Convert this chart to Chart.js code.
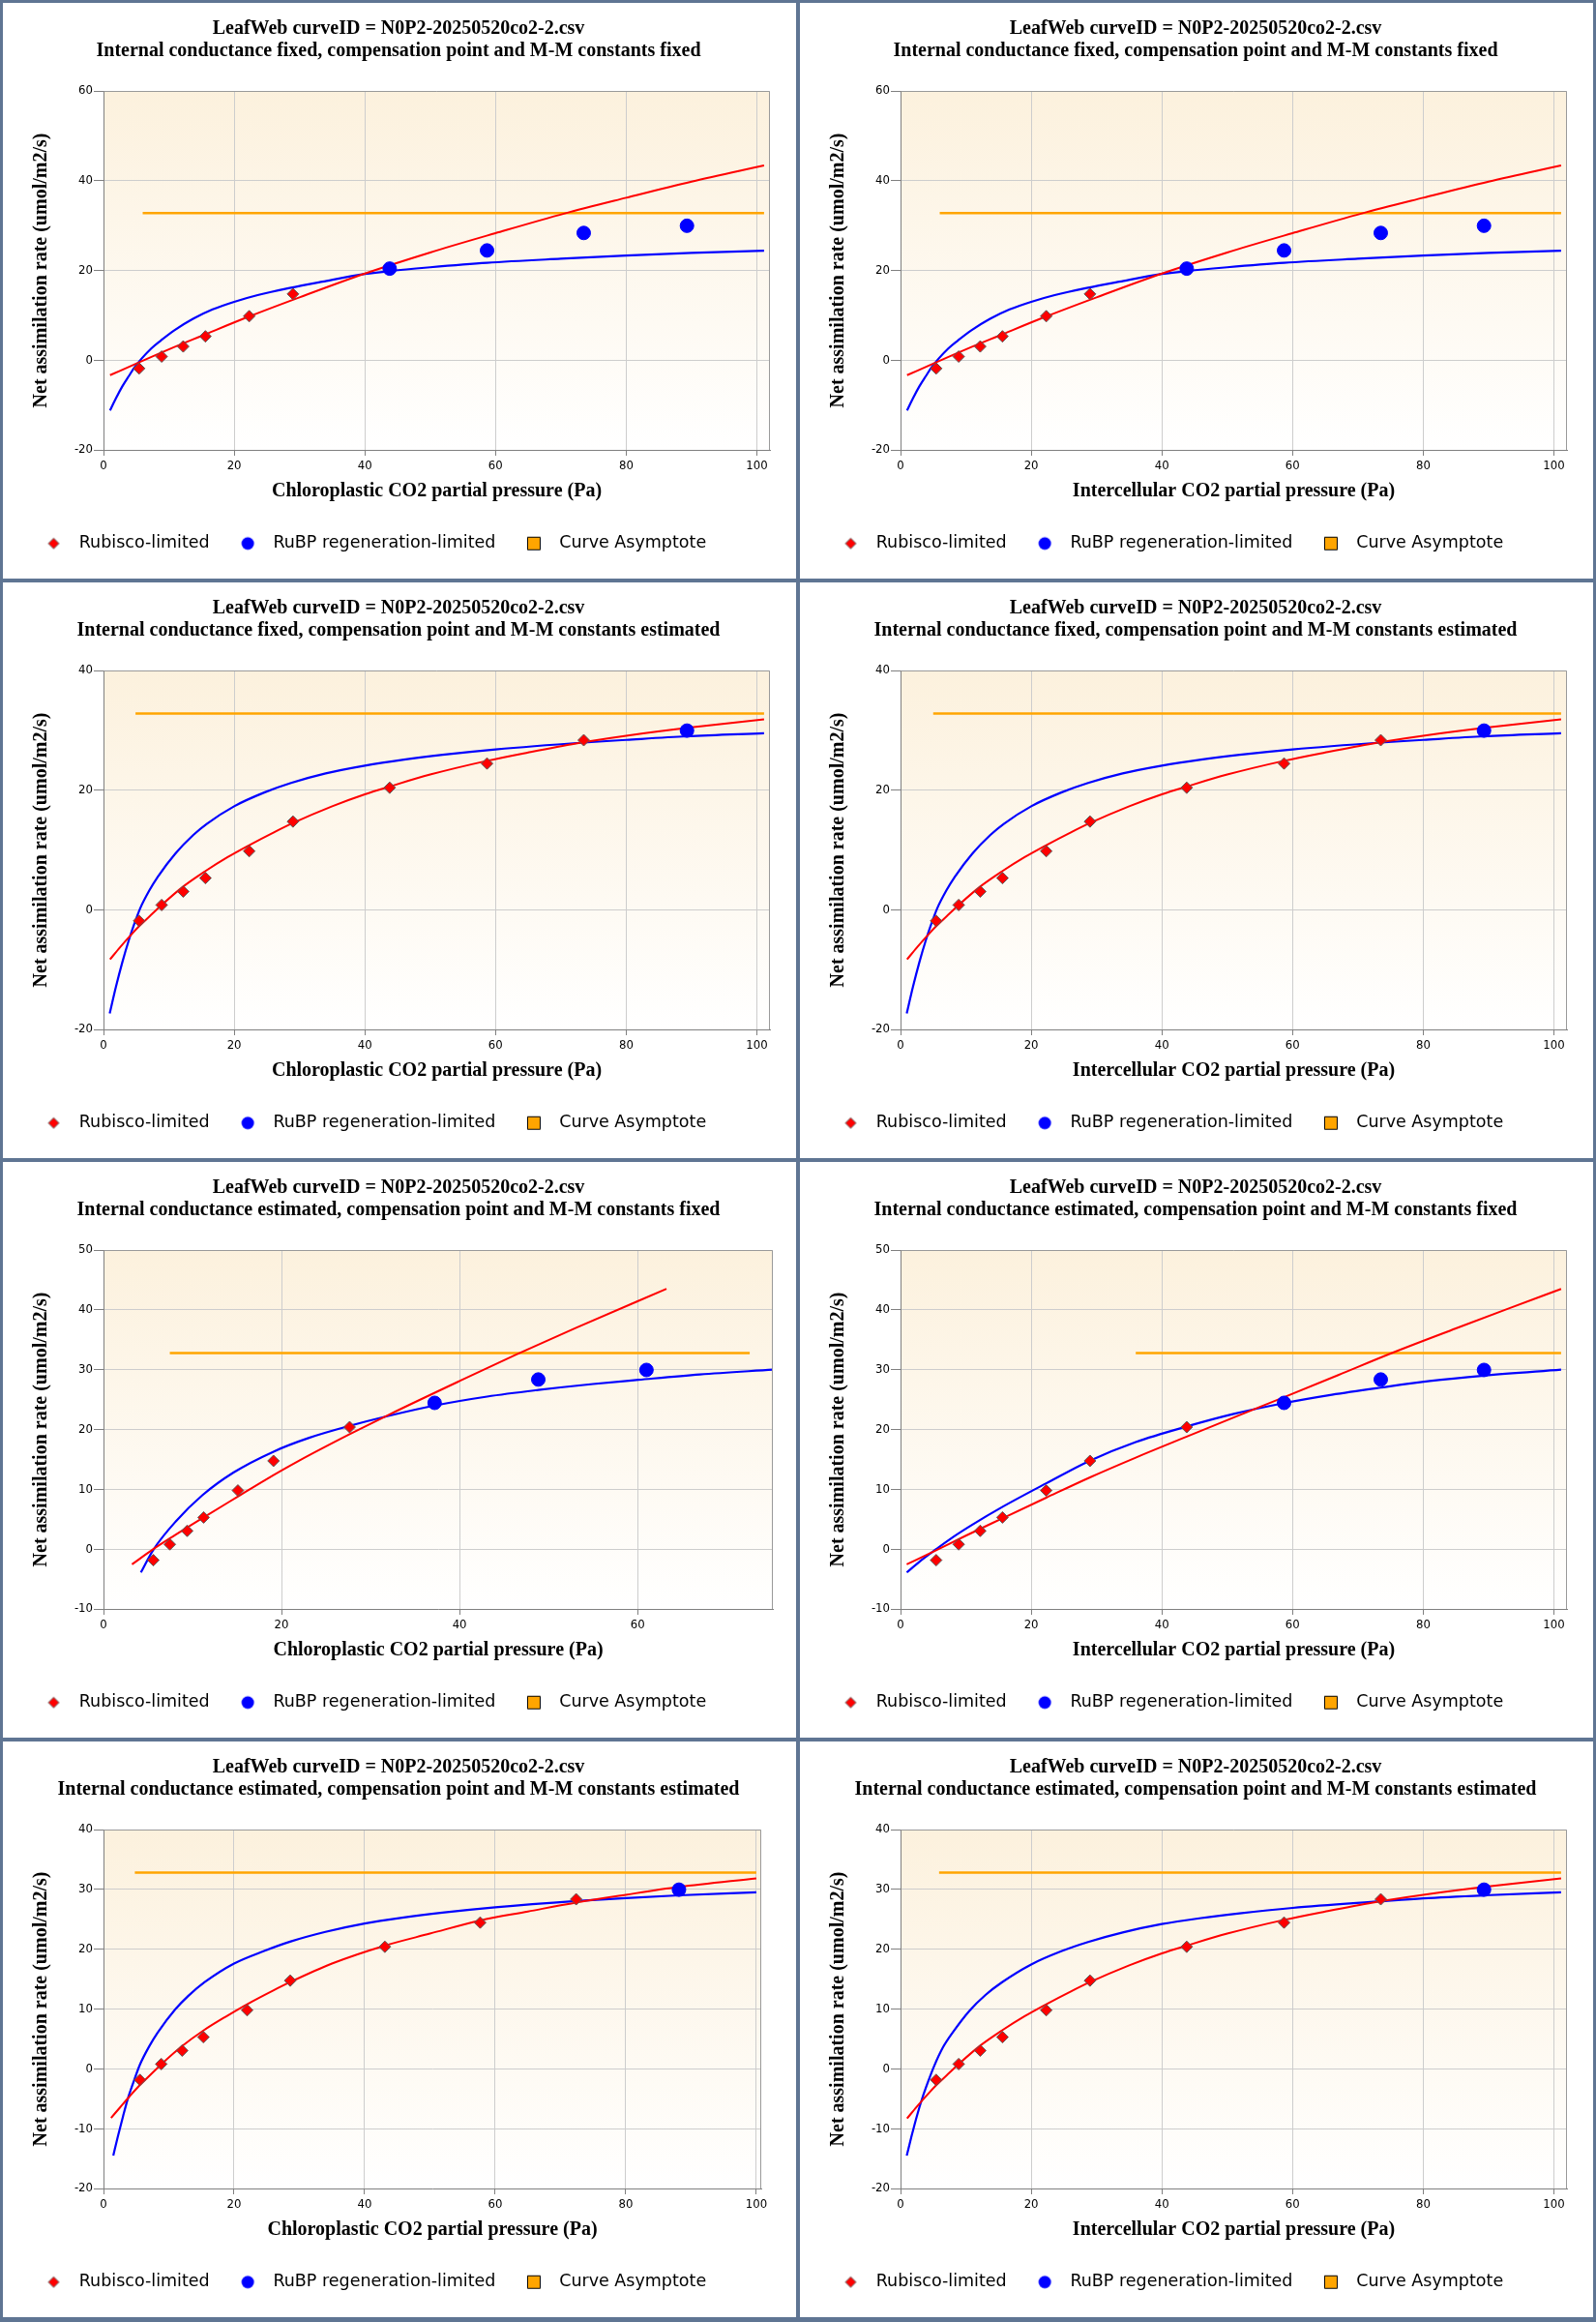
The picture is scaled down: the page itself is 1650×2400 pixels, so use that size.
<!DOCTYPE html>
<html>
<head>
<meta charset="utf-8">
<script src="https://cdn.jsdelivr.net/npm/chart.js@4.4.1/dist/chart.umd.min.js"></script>
<style>
html, body { margin: 0; padding: 0; background: #5f7593; }
#wrap { position: relative; width: 1650px; height: 2400px; background: #5f7593; overflow: hidden; }
.panel { position: absolute; width: 820px; height: 595px; background: #ffffff; }
.panel canvas { display: block; }
</style>
</head>
<body>
<div id="wrap"></div>
<script>
// ---------- texts ----------
const titleLine1 = 'LeafWeb curveID = N0P2-20250520co2-2.csv';
const fitTitles = [
  'Internal conductance fixed, compensation point and M-M constants fixed',
  'Internal conductance fixed, compensation point and M-M constants estimated',
  'Internal conductance estimated, compensation point and M-M constants fixed',
  'Internal conductance estimated, compensation point and M-M constants estimated'
];
const xTitles = ['Chloroplastic CO2 partial pressure (Pa)', 'Intercellular CO2 partial pressure (Pa)'];
const yTitle = 'Net assimilation rate (umol/m2/s)';
const legendLabels = ['Rubisco-limited', 'RuBP regeneration-limited', 'Curve Asymptote'];

// ---------- measured points ----------
const netA    = [-1.85, 0.8, 3.05, 5.3, 9.8, 14.75, 20.4, 24.45, 28.35, 29.95];
const ciPa    = [5.45, 8.9, 12.2, 15.6, 22.3, 29.0, 43.8, 58.7, 73.5, 89.3];
const ccRow3  = [5.6, 7.45, 9.4, 11.25, 15.1, 19.1, 27.65, 37.2, 48.85, 61.0];
const ccRow4  = [5.58, 8.85, 12.05, 15.3, 22.0, 28.6, 43.1, 57.7, 72.4, 88.15];
const rubiscoCount = [6, 9, 7, 9]; // per row: leading points that are Rubisco-limited

// ---------- per panel (r1L, r1R, r2L, r2R, r3L, r3R, r4L, r4R) ----------
const asymptoteA    = [32.8, 32.8, 32.8, 32.8, 32.76, 32.76, 32.8, 32.8];
const asymptoteFrom = [6.0, 6.0, 4.9, 5.0, 7.45, 36.0, 4.8, 5.9];
const asymptoteTo   = [101.1, 101.1, 101.1, 101.1, 72.6, 101.1, 100.0, 101.1];
const xMax  = [102, 102, 102, 102, 75.2, 102, 100.75, 102];
const yMin  = [-20, -20, -20, -20, -10, -10, -20, -20];
const yMax  = [60, 60, 40, 40, 50, 50, 40, 40];
const yStep = [20, 20, 20, 20, 10, 10, 10, 10];

// ---------- fitted curves ----------
const rubiscoFit1X = [1, 5.5, 10, 15, 22.4, 30, 40, 50, 60, 70.6, 80, 90, 101.1];
const rubiscoFit1Y = [-3.35, -0.45, 2.4, 5.4, 9.8, 14.0, 19.3, 24.0, 28.3, 32.7, 36.2, 39.8, 43.4];
const rubpFit1X = [1, 1.9, 2.9, 3.9, 4.8, 5.8, 7.3, 8.8, 10.8, 13.7, 16.7, 20, 23.6, 28.5, 33.5, 40, 44, 50, 58.7, 70, 80, 90, 101.1];
const rubpFit1Y = [-11.2, -8.5, -5.8, -3.5, -1.5, 0.3, 2.6, 4.4, 6.6, 9.2, 11.3, 13.0, 14.5, 16.1, 17.5, 19.2, 19.9, 20.7, 21.7, 22.6, 23.3, 23.9, 24.4];

const rubiscoFit2X = [1, 2.5, 4.2, 5.5, 7, 8.85, 12.1, 15.5, 19, 22.3, 26, 29, 35, 40, 43.8, 50, 58.7, 65, 72.3, 80, 90, 101.1];
const rubiscoFit2Y = [-8.3, -6.3, -4.2, -2.7, -1.15, 0.75, 3.8, 6.4, 8.8, 10.8, 12.9, 14.5, 17.3, 19.3, 20.6, 22.6, 24.9, 26.3, 27.8, 29.1, 30.5, 31.85];
const rubpFit2X = [0.95, 1.9, 2.9, 3.9, 4.7, 5.6, 7, 8.3, 11, 13.75, 15.8, 20, 24.6, 28.7, 34, 40, 46, 51.9, 60, 73.5, 80, 89.3, 101.1];
const rubpFit2Y = [-17.35, -12.9, -8.7, -5.0, -2.4, 0.2, 3.2, 5.5, 9.4, 12.5, 14.35, 17.3, 19.6, 21.2, 22.8, 24.1, 25.1, 25.9, 26.8, 27.95, 28.4, 29.0, 29.5];

const rubiscoFit3LX = [3.2, 5.6, 8, 11.25, 15, 18.1, 22, 27.65, 32.1, 40, 46.35, 53.1, 63.25];
const rubiscoFit3LY = [-2.55, 0.0, 2.3, 5.3, 8.7, 11.5, 14.8, 19.2, 22.5, 28.1, 32.5, 37.0, 43.5];
const rubpFit3LX = [4.2, 5.6, 8.1, 11.1, 14.6, 19.1, 23.1, 27.65, 32.1, 37.2, 43.1, 48.85, 55, 60.1, 67, 75.2];
const rubpFit3LY = [-3.9, -0.1, 4.6, 9.0, 12.8, 16.3, 18.6, 20.6, 22.3, 24.0, 25.5, 26.6, 27.6, 28.3, 29.2, 30.0];

const rubiscoFit3RX = [0.95, 5.45, 10, 15.5, 22.3, 29, 36, 43.8, 51.9, 58.7, 67, 75, 85, 93, 101.1];
const rubiscoFit3RY = [-2.55, -0.2, 2.25, 5.1, 8.6, 12.0, 15.3, 18.8, 22.4, 25.4, 29.1, 32.7, 36.9, 40.2, 43.5];
const rubpFit3RX = [0.95, 3, 5.45, 8, 11, 15.5, 22.3, 29, 36, 43.8, 51, 58.7, 66, 73.5, 81, 89.3, 101.1];
const rubpFit3RY = [-3.9, -2.0, 0.0, 2.0, 4.1, 7.0, 11.0, 14.8, 17.9, 20.5, 22.6, 24.4, 25.8, 27.0, 28.1, 29.0, 30.0];

const rubiscoFit4LX = [1.16, 2.5, 4.0, 5.58, 7, 8.85, 12.05, 15.3, 19, 22, 26, 28.6, 35, 43.1, 50, 57.7, 65, 72.4, 80, 88.15, 100];
const rubiscoFit4LY = [-8.2, -6.5, -4.6, -2.7, -1.2, 0.75, 3.8, 6.4, 8.9, 10.8, 13.1, 14.5, 17.6, 20.6, 22.6, 24.8, 26.3, 27.8, 29.1, 30.4, 31.85];
const rubpFit4LX = [1.5, 2.2, 3.0, 3.7, 4.6, 5.58, 7, 8.3, 11, 13, 15.45, 20, 24.6, 28.7, 34, 40, 46, 51.9, 60, 72.4, 80, 88.15, 100];
const rubpFit4LY = [-14.5, -11.3, -7.9, -5.1, -2.2, 0.7, 3.75, 6.05, 9.95, 12.2, 14.45, 17.6, 19.7, 21.3, 22.9, 24.3, 25.3, 26.1, 27.0, 28.05, 28.55, 29.0, 29.5];

const rubpFit4RX = [0.95, 1.7, 2.5, 3.3, 4.2, 5.2, 6.5, 8, 10.5, 13, 15.5, 20, 24.6, 28.7, 34, 40, 46, 51.9, 60, 73.5, 80, 89.3, 101.1];
const rubpFit4RY = [-14.5, -11.2, -7.9, -5.0, -2.2, 0.6, 3.6, 6.1, 9.65, 12.35, 14.45, 17.45, 19.65, 21.2, 22.8, 24.2, 25.2, 26.0, 26.9, 28.0, 28.5, 29.0, 29.5];

// ---------- layout (not data): extra right inset of each plot area, px ----------
const plotRightInset = [12, 12, 12, 12, 9, 12, 21, 12];

// ---------- panel assembly ----------
const panels = [
  {row: 0, col: 0, px: ciPa,   rx: rubiscoFit1X,  ry: rubiscoFit1Y,  bx: rubpFit1X,  by: rubpFit1Y},
  {row: 0, col: 1, px: ciPa,   rx: rubiscoFit1X,  ry: rubiscoFit1Y,  bx: rubpFit1X,  by: rubpFit1Y},
  {row: 1, col: 0, px: ciPa,   rx: rubiscoFit2X,  ry: rubiscoFit2Y,  bx: rubpFit2X,  by: rubpFit2Y},
  {row: 1, col: 1, px: ciPa,   rx: rubiscoFit2X,  ry: rubiscoFit2Y,  bx: rubpFit2X,  by: rubpFit2Y},
  {row: 2, col: 0, px: ccRow3, rx: rubiscoFit3LX, ry: rubiscoFit3LY, bx: rubpFit3LX, by: rubpFit3LY},
  {row: 2, col: 1, px: ciPa,   rx: rubiscoFit3RX, ry: rubiscoFit3RY, bx: rubpFit3RX, by: rubpFit3RY},
  {row: 3, col: 0, px: ccRow4, rx: rubiscoFit4LX, ry: rubiscoFit4LY, bx: rubpFit4LX, by: rubpFit4LY},
  {row: 3, col: 1, px: ciPa,   rx: rubiscoFit2X,  ry: rubiscoFit2Y,  bx: rubpFit4RX, by: rubpFit4RY}
];

const SERIF = "'Liberation Serif', 'Times New Roman', serif";
const TICKFONT = "'DejaVu Sans Condensed', 'Liberation Sans Narrow', 'DejaVu Sans', sans-serif";
const LEGENDFONT = "'DejaVu Sans', Verdana, sans-serif";

function pts(xs, ys) { return xs.map((x, i) => ({x: x, y: ys[i]})); }

function makeIcon(kind) {
  const c = document.createElement('canvas');
  c.width = 36; c.height = 18;
  const g = c.getContext('2d');
  const cx = 9, cy = 9;
  g.beginPath();
  if (kind === 0) {
    g.moveTo(cx - 5.5, cy); g.lineTo(cx, cy - 5.5); g.lineTo(cx + 5.5, cy); g.lineTo(cx, cy + 5.5); g.closePath();
    g.fillStyle = '#ff0000'; g.fill();
    g.strokeStyle = '#666666'; g.lineWidth = 1; g.stroke();
  } else if (kind === 1) {
    g.arc(cx, cy, 6.5, 0, Math.PI * 2);
    g.fillStyle = '#0000ff'; g.fill();
  } else {
    g.rect(cx - 6.5, cy - 6.5, 13, 13);
    g.fillStyle = '#ffa500'; g.fill();
    g.strokeStyle = '#000000'; g.lineWidth = 1; g.stroke();
  }
  return c;
}
const legendIcons = [makeIcon(0), makeIcon(1), makeIcon(2)];

const plotBackground = {
  id: 'plotBackground',
  beforeDraw(chart) {
    const a = chart.chartArea, ctx = chart.ctx;
    const grd = ctx.createLinearGradient(0, a.top, 0, a.bottom);
    grd.addColorStop(0, '#fcf1dd');
    grd.addColorStop(1, '#ffffff');
    ctx.save();
    ctx.fillStyle = grd;
    ctx.fillRect(a.left, a.top, a.right - a.left, a.bottom - a.top);
    ctx.restore();
  }
};
const plotFrame = {
  id: 'plotFrame',
  afterDraw(chart) {
    const a = chart.chartArea, ctx = chart.ctx;
    ctx.save();
    ctx.strokeStyle = '#9a9a9a';
    ctx.lineWidth = 1;
    ctx.beginPath();
    ctx.moveTo(Math.round(a.left) + 0.5, Math.round(a.top) + 0.5);
    ctx.lineTo(Math.round(a.right) - 0.5, Math.round(a.top) + 0.5);
    ctx.lineTo(Math.round(a.right) - 0.5, Math.round(a.bottom));
    ctx.stroke();
    ctx.restore();
  }
};

const wrap = document.getElementById('wrap');
panels.forEach((p, i) => {
  const div = document.createElement('div');
  div.className = 'panel';
  div.style.left = (3 + p.col * 824) + 'px';
  div.style.top = (3 + p.row * 599) + 'px';
  const cv = document.createElement('canvas');
  cv.width = 820; cv.height = 595;
  cv.style.width = '820px'; cv.style.height = '595px';
  div.appendChild(cv);
  wrap.appendChild(div);

  const n = rubiscoCount[p.row];
  const inset = plotRightInset[i];
  new Chart(cv, {
    type: 'scatter',
    data: {
      datasets: [
        {type: 'line', label: 'Rubisco fit', data: pts(p.rx, p.ry), borderColor: '#ff0000', borderWidth: 2,
         pointRadius: 0, fill: false, cubicInterpolationMode: 'monotone', order: 2},
        {type: 'line', label: 'RuBP fit', data: pts(p.bx, p.by), borderColor: '#0000ff', borderWidth: 2.2,
         pointRadius: 0, fill: false, cubicInterpolationMode: 'monotone', order: 3},
        {type: 'line', label: 'Curve Asymptote',
         data: [{x: asymptoteFrom[i], y: asymptoteA[i]}, {x: asymptoteTo[i], y: asymptoteA[i]}],
         borderColor: '#ffa500', borderWidth: 2.5, pointRadius: 0, fill: false, order: 4},
        {label: 'Rubisco-limited', data: pts(p.px.slice(0, n), netA.slice(0, n)), pointStyle: 'rectRot',
         pointRadius: 6, backgroundColor: '#ff0000', borderColor: '#5a5a5a', borderWidth: 1, order: 1},
        {label: 'RuBP regeneration-limited', data: pts(p.px.slice(n), netA.slice(n)), pointStyle: 'circle',
         pointRadius: 7, backgroundColor: '#0000ff', borderColor: '#0000ff', borderWidth: 1, order: 0}
      ]
    },
    options: {
      responsive: false,
      animation: false,
      events: [],
      layout: {padding: {left: 13, right: 15, top: 0, bottom: 17.5}},
      plugins: {
        title: {
          display: true, text: [titleLine1, fitTitles[p.row]], color: '#000000',
          font: {family: SERIF, size: 20, weight: 'bold', lineHeight: 1.15},
          padding: {top: 15.5, bottom: 29.5}
        },
        legend: {
          position: 'bottom', align: 'start',
          onClick: () => {},
          labels: {
            usePointStyle: true, boxWidth: 17, boxHeight: 17, padding: 40,
            font: {family: LEGENDFONT, size: 17.5}, color: '#000000',
            generateLabels: () => legendLabels.map((t, k) => ({
              text: t, pointStyle: legendIcons[k], fontColor: '#000000',
              fillStyle: '#ffffff', strokeStyle: '#ffffff', lineWidth: 0, hidden: false, datasetIndex: k
            }))
          }
        },
        tooltip: {enabled: false}
      },
      scales: {
        x: {
          type: 'linear', position: 'bottom', min: 0, max: xMax[i],
          ticks: {stepSize: 20, includeBounds: false, color: '#000000', font: {family: TICKFONT, size: 13}, padding: 3, maxRotation: 0},
          grid: {color: '#cdcdcd', tickColor: '#808080', tickLength: 6},
          border: {color: '#808080'},
          title: {display: true, text: xTitles[p.col], color: '#000000',
                  font: {family: SERIF, size: 20, weight: 'bold'}, padding: {top: 0, bottom: -7}},
          afterFit: s => { s.height = 48; }
        },
        y: {
          type: 'linear', position: 'left', min: yMin[i], max: yMax[i],
          ticks: {stepSize: yStep[i], color: '#000000', font: {family: TICKFONT, size: 13}, padding: 1},
          grid: {color: '#cdcdcd', tickColor: '#808080', tickLength: 10},
          border: {color: '#808080'},
          title: {display: true, text: yTitle, color: '#000000',
                  font: {family: SERIF, size: 20, weight: 'bold'}, padding: {top: 15, bottom: 0}},
          afterFit: s => { s.width = 91; }
        },
        yPad: {
          type: 'linear', position: 'right', display: true,
          grid: {display: false}, ticks: {display: false}, border: {display: false},
          afterFit: s => { s.width = inset; }
        }
      }
    },
    plugins: [plotBackground, plotFrame]
  });
});
</script>
</body>
</html>
